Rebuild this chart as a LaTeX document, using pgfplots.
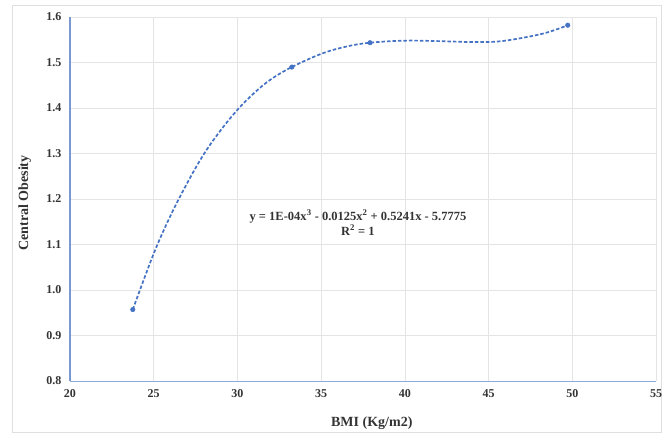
\documentclass[border=0pt]{standalone}
\usepackage{fontspec}
\setmainfont{Liberation Serif}
\usepackage{pgfplots}
\pgfplotsset{compat=1.18}

\definecolor{serblue}{HTML}{4472C4}
\definecolor{axblue}{HTML}{8FAADC}
\definecolor{gridgray}{HTML}{E4E4E4}
\definecolor{txt}{HTML}{333333}

\begin{document}
\begin{tikzpicture}[x=1pt,y=1pt]
\useasboundingbox (-70,-53) rectangle (595,381);
\draw[gray!25, line width=0.8pt] (-58,-51) rectangle (591,376);
\begin{axis}[
    at={(0,0)}, anchor=origin,
    scale only axis,
    width=586pt, height=364pt,
    xmin=20, xmax=55, ymin=0.8, ymax=1.6,
    xtick={20,25,...,55},
    ytick={0.8,0.9,...,1.6},
    yticklabel style={/pgf/number format/fixed, /pgf/number format/fixed zerofill, /pgf/number format/precision=1},
    /pgf/number format/assume math mode=true,
    axis x line*=bottom, axis y line*=left,
    x axis line style={axblue, line width=0.8pt, -},
    y axis line style={axblue!70!serblue, line width=1.2pt, -},
    major tick length=0pt,
    grid=major,
    grid style={gridgray, line width=0.6pt},
    tick label style={font=\fontsize{12}{14}\selectfont\bfseries, text=txt},
    xticklabel style={yshift=-5pt},
    yticklabel style={xshift=-5pt},
    xlabel={BMI (Kg/m2)},
    ylabel={Central Obesity},
    label style={font=\fontsize{14}{16}\selectfont\bfseries, text=txt},
    xlabel style={at={(axis description cs:0.515,-0.115)}, anchor=center},
    ylabel style={at={(axis description cs:-0.077,0.489)}, anchor=center},
]
% polynomial trend line
\addplot[serblue, line width=1.7pt, dash pattern=on 3.5pt off 2pt, smooth, tension=0.6] coordinates {
(23.75,0.957)(25,1.080)(26,1.163)(27,1.235)(28,1.299)(29,1.351)(30,1.396)
(31,1.433)(32,1.463)(33.25,1.490)(35,1.519)(36.5,1.535)(37.92,1.5435)
(40,1.548)(42,1.547)(44,1.545)(45.5,1.546)(47,1.554)(48.5,1.566)(49.73,1.582)};
% data points
\addplot[only marks, mark=*, mark size=2.3pt, serblue] coordinates {
(23.75,0.957)(33.25,1.490)(37.92,1.5435)(49.73,1.582)};
\node[font=\fontsize{12.5}{15}\selectfont\bfseries, align=center, text=txt]
  at (axis cs:37.2,1.148) {y = 1E-04x\textsuperscript{3} - 0.0125x\textsuperscript{2} + 0.5241x - 5.7775\\R\textsuperscript{2} = 1};
\end{axis}
\end{tikzpicture}
\end{document}
